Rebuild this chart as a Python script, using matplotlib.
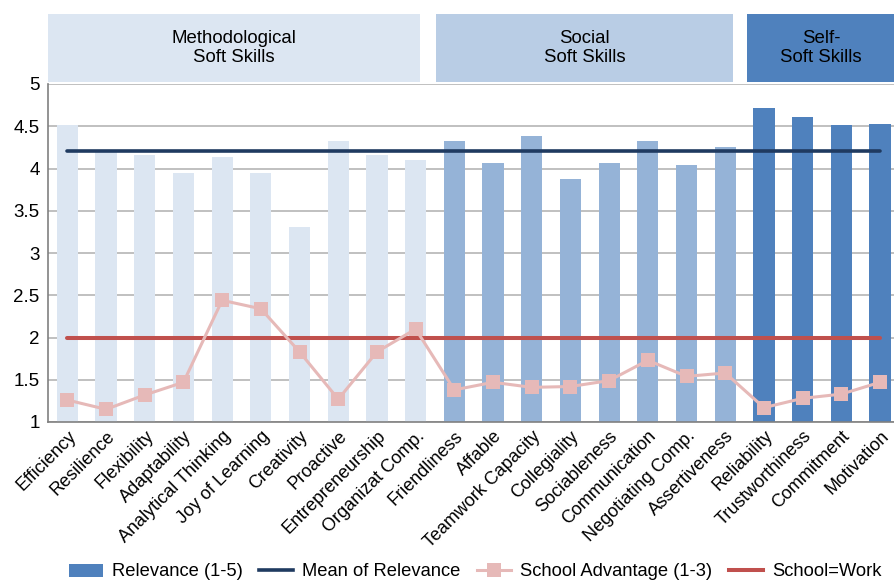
import matplotlib
matplotlib.use("Agg")
import matplotlib.pyplot as plt
import numpy as np
import matplotlib.transforms as mtrans
from matplotlib.patches import Rectangle, Patch
from matplotlib.lines import Line2D

plt.rcParams['font.family'] = ['Liberation Sans', 'DejaVu Sans']

categories = ["Efficiency", "Resilience", "Flexibility", "Adaptability", "Analytical Thinking",
              "Joy of Learning", "Creativity", "Proactive", "Entrepreneurship", "Organizat Comp.",
              "Friendliness", "Affable", "Teamwork Capacity", "Collegiality", "Sociableness",
              "Communication", "Negotiating Comp.", "Assertiveness",
              "Reliability", "Trustworthiness", "Commitment", "Motivation"]
groups = ["Methodological"] * 10 + ["Social"] * 8 + ["Self"] * 4
relevance = [4.52, 4.20, 4.16, 3.95, 4.14, 3.95, 3.31, 4.33, 4.16, 4.10,
             4.33, 4.07, 4.39, 3.87, 4.07, 4.33, 4.04, 4.26,
             4.72, 4.61, 4.52, 4.53]
school_adv = [1.26, 1.15, 1.32, 1.47, 2.44, 2.34, 1.83, 1.27, 1.83, 2.10,
              1.38, 1.47, 1.41, 1.42, 1.49, 1.73, 1.54, 1.58,
              1.17, 1.28, 1.33, 1.47]
school_eq_work = 2.0
group_titles = {"Methodological": "Methodological\nSoft Skills",
                "Social": "Social\nSoft Skills",
                "Self": "Self-\nSoft Skills"}
y_ticks = [1, 1.5, 2, 2.5, 3, 3.5, 4, 4.5, 5]
y_ticklabels = ["1", "1.5", "2", "2.5", "3", "3.5", "4", "4.5", "5"]

bar_colors = {"Methodological": "#dce6f2", "Social": "#95b3d7", "Self": "#4f81bd"}
head_colors = {"Methodological": "#dce6f2", "Social": "#b9cde5", "Self": "#4f81bd"}

W, H = 894, 581
fig = plt.figure(figsize=(W / 100, H / 100), dpi=100)
ax = fig.add_axes([48 / W, 1 - 422 / H, 851.4 / W, 338 / H])

x = np.arange(len(categories))
ax.bar(x, np.array(relevance) - 1, bottom=1, width=0.55,
       color=[bar_colors[g] for g in groups], zorder=2)
mean_rel = float(np.mean(relevance))
ax.plot([x[0], x[-1]], [mean_rel, mean_rel], color="#1f3a60", lw=2.6, zorder=3,
        solid_capstyle='round')
ax.plot([x[0], x[-1]], [school_eq_work, school_eq_work], color="#c0504d", lw=2.9, zorder=3,
        solid_capstyle='round')
ax.plot(x, school_adv, color="#e6b9b8", lw=2.2, marker='s', markersize=10,
        markeredgewidth=0, zorder=4)

ax.set_xlim(-0.5, 21.5)
ax.set_ylim(1, 5)
ax.set_yticks(y_ticks)
ax.set_yticklabels(y_ticklabels, fontsize=13.5)
ax.tick_params(axis='y', length=0, pad=6)
ax.tick_params(axis='x', length=0, pad=4)
ax.set_xticks(x)
ax.set_xticklabels(categories, rotation=45, ha='right', rotation_mode='anchor', fontsize=13)
ax.grid(axis='y', color="#b5b5b5", lw=1.2, zorder=0)
ax.set_axisbelow(True)
for s in ['top', 'right']:
    ax.spines[s].set_visible(False)
ax.spines['left'].set_color("#808080")
ax.spines['bottom'].set_color("#808080")
ax.spines['left'].set_linewidth(1.2)
ax.spines['bottom'].set_linewidth(1.2)

# group header boxes
trans = mtrans.blended_transform_factory(ax.transData, fig.transFigure)
y0 = 1 - 82 / H
y1 = 1 - 14 / H
spans = {"Methodological": (-0.5, 9.12), "Social": (9.53, 17.2), "Self": (17.57, 21.7)}
text_x = {"Methodological": 4.3, "Social": 13.37, "Self": 19.48}
for g, (a, b) in spans.items():
    r = Rectangle((a, y0), b - a, y1 - y0, transform=trans, facecolor=head_colors[g],
                  edgecolor='none', clip_on=False)
    fig.add_artist(r)
    fig.text(text_x[g], (y0 + y1) / 2, group_titles[g], transform=trans, fontsize=13.4,
             ha='center', va='center', linespacing=1.15)

handles = [Patch(facecolor="#4f81bd", edgecolor='none'),
           Line2D([], [], color="#1f3a60", lw=2.6),
           Line2D([], [], color="#e6b9b8", lw=2.2, marker='s', markersize=10, markeredgewidth=0),
           Line2D([], [], color="#c0504d", lw=2.9)]
labels = ["Relevance (1-5)", "Mean of Relevance", "School Advantage (1-3)", "School=Work"]
fig.legend(handles, labels, loc='center', bbox_to_anchor=(475 / W, 1 - 572 / H), ncol=4,
           frameon=False, fontsize=13.2, handlelength=1.85, handleheight=0.7,
           handletextpad=0.5, columnspacing=0.9, borderaxespad=0)

fig.savefig("out.png", dpi=100)
